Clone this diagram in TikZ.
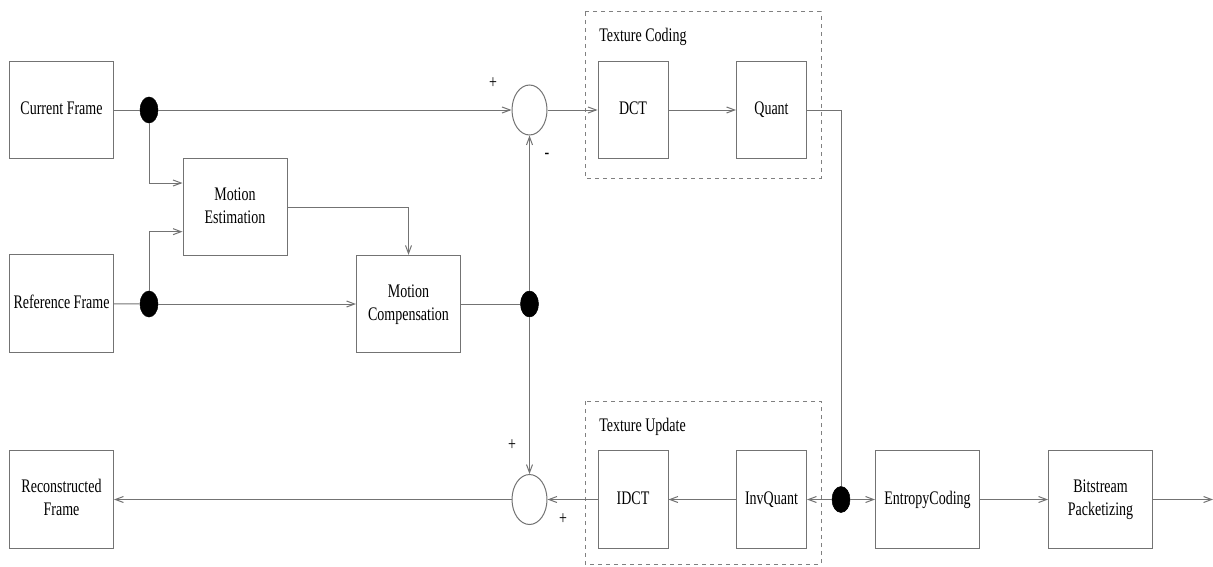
\documentclass[tikz,border=0pt]{standalone}
\usepackage{fontspec}
\setmainfont{Liberation Serif}
\usepackage{graphicx}
\usetikzlibrary{arrows.meta,shapes.geometric}
\newcommand{\stx}[1]{\scalebox{1}[1.37]{\begin{tabular}{@{}c@{}}#1\end{tabular}}}
\begin{document}
\begin{tikzpicture}[x=0.75pt,y=-0.75pt,
  txt/.style={font=\fontsize{10.5}{12.6}\selectfont, inner sep=0pt, text=black},
  blk/.style={txt, draw=black!55, line width=0.75pt, minimum width=78pt, minimum height=73pt},
  nblk/.style={blk, minimum width=52.5pt},
  sumn/.style={ellipse, draw=black!55, line width=0.75pt, inner sep=0pt, minimum width=26.25pt, minimum height=37.5pt},
  dotn/.style={ellipse, fill=black, draw=black, inner sep=0pt, minimum width=13.5pt, minimum height=19.5pt},
  conn/.style={draw=black!55, line width=0.75pt},
  arr/.style={conn, -{Straight Barb[length=6pt,width=4.5pt]}},
  grp/.style={draw=black!50, line width=0.75pt, dash pattern=on 3pt off 3pt}]
\useasboundingbox (0,0) rectangle (1213,567);
% groups
\draw[grp] (585,12) rectangle (821,178);
\draw[grp] (585,401) rectangle (821,564);
\node[txt, anchor=west] (tcl) at (599,37) {\stx{Texture Coding}};
\node[txt, anchor=west] (tul) at (599,427) {\stx{Texture Update}};
% blocks
\node[blk] (cur) at (61.5,110) {\stx{Current Frame}};
\node[blk] (ref) at (61.5,303.5) {\stx{Reference Frame}};
\node[blk] (rec) at (61.5,499.5) {\stx{Reconstructed\\Frame}};
\node[blk] (me) at (235,207) {\stx{Motion\\Estimation}};
\node[blk] (mc) at (408.5,304) {\stx{Motion\\Compensation}};
\node[nblk] (dct) at (633,110) {\stx{DCT}};
\node[nblk] (quant) at (771.5,110) {\stx{Quant}};
\node[nblk] (idct) at (633,499.5) {\stx{IDCT}};
\node[nblk] (invq) at (771.5,499.5) {\stx{InvQuant}};
\node[blk] (ent) at (927.5,499.5) {\stx{EntropyCoding}};
\node[blk] (bit) at (1100.5,499.5) {\stx{Bitstream\\Packetizing}};
% sums and junctions
\node[sumn] (sum1) at (529.5,110) {};
\node[sumn] (sum2) at (529.5,499.5) {};
\node[dotn] (d1) at (149,110) {};
\node[dotn] (d2) at (149,304) {};
\node[dotn] (d3) at (529.5,304) {};
\node[dotn] (d4) at (841,499.5) {};
\coordinate (out) at (1213,499.5);
% signs
\node[txt] (s1) at (493,84) {\stx{+}};
\node[txt] (s2) at (547,154) {\stx{-}};
\node[txt] (s3) at (512,446) {\stx{+}};
\node[txt] (s4) at (563,520) {\stx{+}};
% connectors
\draw[conn] (cur) -- (d1);
\draw[arr] (d1) -- (sum1);
\draw[arr] (d1) |- ([yshift=18pt]me.west);
\draw[conn] (ref) -- (d2);
\draw[arr] (d2) -- (mc);
\draw[arr] (d2) |- ([yshift=-18.5pt]me.west);
\draw[arr] (me.east) -| (mc.north);
\draw[conn] (mc) -- (d3);
\draw[arr] (d3) -- (sum1);
\draw[arr] (d3) -- (sum2);
\draw[arr] (sum1) -- (dct);
\draw[arr] (dct) -- (quant);
\draw[conn] (quant.east) -| (d4);
\draw[arr] (d4) -- (invq);
\draw[arr] (d4) -- (ent);
\draw[arr] (invq) -- (idct);
\draw[arr] (idct) -- (sum2);
\draw[arr] (sum2) -- (rec);
\draw[arr] (ent) -- (bit);
\draw[arr] (bit) -- (out);
\end{tikzpicture}
\end{document}
